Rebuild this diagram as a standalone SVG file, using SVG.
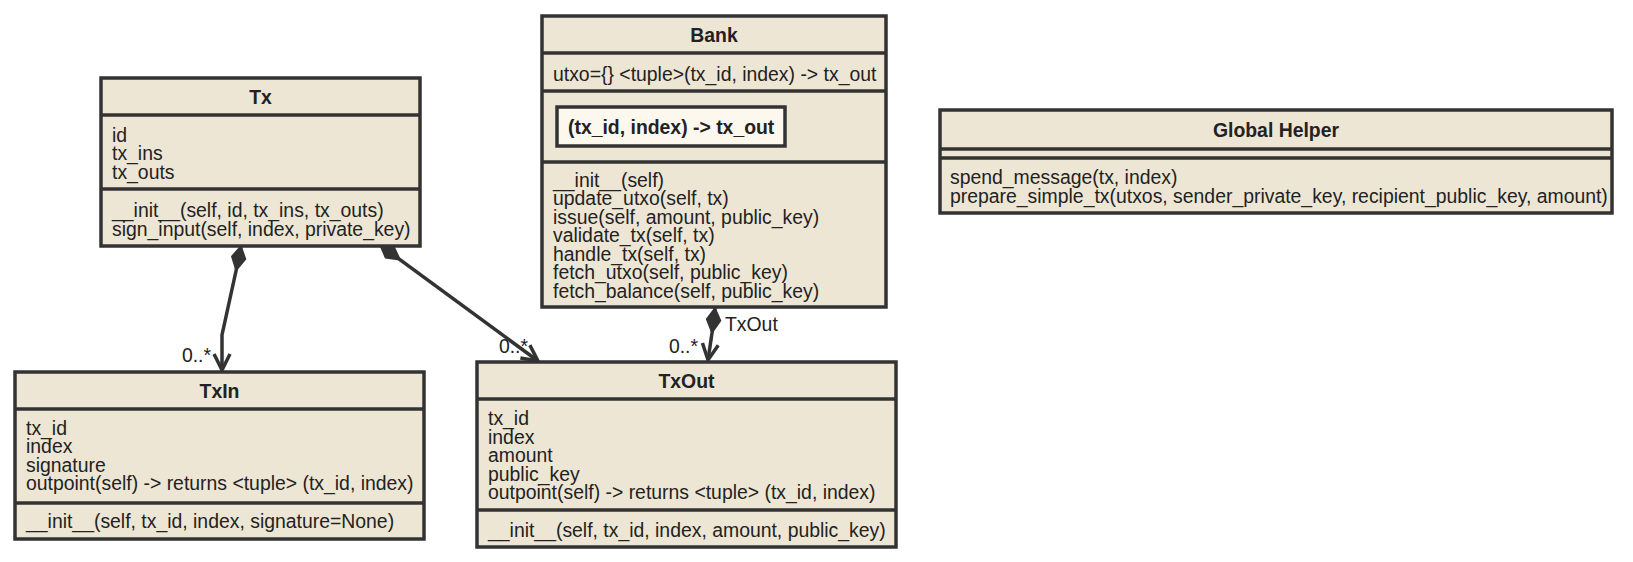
<svg xmlns="http://www.w3.org/2000/svg" width="1633" height="562" viewBox="0 0 1633 562">
<style>
.box{fill:#EEE6D4;stroke:#333;stroke-width:3.5}
.sep{stroke:#333;stroke-width:3.5}
.inner{fill:#FCF8EE;stroke:#333;stroke-width:3.5}
text{font-family:"Liberation Sans",Arial,Helvetica,sans-serif;font-size:19.4px;fill:#222}
.title{font-weight:bold;text-anchor:middle}
.bold{font-weight:bold}
.end{text-anchor:end}
.conn{fill:none;stroke:#333;stroke-width:3.5;stroke-linejoin:miter}
</style>
<defs>
<marker id="diamond" markerUnits="userSpaceOnUse" orient="auto" refX="0" refY="0" markerWidth="30" markerHeight="20" overflow="visible">
<path d="M0,0 L12,-7 L25,0 L12,7 Z" fill="#333" stroke="#333" stroke-width="1.5"/>
</marker>
<marker id="arrow" markerUnits="userSpaceOnUse" orient="auto" refX="0" refY="0" markerWidth="20" markerHeight="20" overflow="visible">
<path d="M-16,-8 L0,0 L-16,8" fill="none" stroke="#333" stroke-width="3.5" stroke-linejoin="miter"/>
</marker>
</defs>

<g id="connectors">
<path class="conn" d="M241,246 L236,271 L222,335 L222,370" marker-start="url(#diamond)" marker-end="url(#arrow)"/>
<path class="conn" d="M380,245 L538,361" marker-start="url(#diamond)" marker-end="url(#arrow)"/>
<path class="conn" d="M715,308 L712,333 L708,360" marker-start="url(#diamond)" marker-end="url(#arrow)"/>
<text class="end" x="211" y="362">0..*</text>
<text class="end" x="528" y="353">0..*</text>
<text class="end" x="698" y="353">0..*</text>
<text x="725" y="331">TxOut</text>
</g>

<g id="Tx">
<rect class="box" x="101" y="78" width="319" height="168"/>
<line class="sep" x1="101" y1="115" x2="420" y2="115"/>
<line class="sep" x1="101" y1="189" x2="420" y2="189"/>
<text class="title" x="260.5" y="104">Tx</text>
<text x="112" y="141.5">id</text>
<text x="112" y="160">tx_ins</text>
<text x="112" y="178.5">tx_outs</text>
<text x="112" y="217">__init__(self, id, tx_ins, tx_outs)</text>
<text x="112" y="235.5">sign_input(self, index, private_key)</text>
</g>

<g id="Bank">
<rect class="box" x="542" y="16" width="344" height="291"/>
<line class="sep" x1="542" y1="53" x2="886" y2="53"/>
<line class="sep" x1="542" y1="91" x2="886" y2="91"/>
<line class="sep" x1="542" y1="162" x2="886" y2="162"/>
<text class="title" x="714" y="42">Bank</text>
<text x="553" y="81">utxo={} &lt;tuple&gt;(tx_id, index) -&gt; tx_out</text>
<rect class="inner" x="557" y="107" width="228" height="39"/>
<text class="bold" x="568" y="134">(tx_id, index) -&gt; tx_out</text>
<text x="553" y="186.5">__init__(self)</text>
<text x="553" y="205">update_utxo(self, tx)</text>
<text x="553" y="223.5">issue(self, amount, public_key)</text>
<text x="553" y="242">validate_tx(self, tx)</text>
<text x="553" y="260.5">handle_tx(self, tx)</text>
<text x="553" y="279">fetch_utxo(self, public_key)</text>
<text x="553" y="297.5">fetch_balance(self, public_key)</text>
</g>

<g id="GlobalHelper">
<rect class="box" x="940" y="110" width="672" height="103"/>
<line class="sep" x1="940" y1="149" x2="1612" y2="149"/>
<line class="sep" x1="940" y1="158" x2="1612" y2="158"/>
<text class="title" x="1276" y="137">Global Helper</text>
<text x="950" y="184">spend_message(tx, index)</text>
<text x="950" y="202.5">prepare_simple_tx(utxos, sender_private_key, recipient_public_key, amount)</text>
</g>

<g id="TxIn">
<rect class="box" x="15" y="372" width="409" height="167"/>
<line class="sep" x1="15" y1="409" x2="424" y2="409"/>
<line class="sep" x1="15" y1="503" x2="424" y2="503"/>
<text class="title" x="219.5" y="397.5">TxIn</text>
<text x="26" y="434.5">tx_id</text>
<text x="26" y="453">index</text>
<text x="26" y="471.5">signature</text>
<text x="26" y="490">outpoint(self) -&gt; returns &lt;tuple&gt; (tx_id, index)</text>
<text x="26" y="527.5">__init__(self, tx_id, index, signature=None)</text>
</g>

<g id="TxOut">
<rect class="box" x="477" y="362" width="419" height="185"/>
<line class="sep" x1="477" y1="399" x2="896" y2="399"/>
<line class="sep" x1="477" y1="510" x2="896" y2="510"/>
<text class="title" x="686.5" y="388">TxOut</text>
<text x="488" y="425">tx_id</text>
<text x="488" y="443.5">index</text>
<text x="488" y="462">amount</text>
<text x="488" y="480.5">public_key</text>
<text x="488" y="499">outpoint(self) -&gt; returns &lt;tuple&gt; (tx_id, index)</text>
<text x="488" y="536.5">__init__(self, tx_id, index, amount, public_key)</text>
</g>
</svg>
